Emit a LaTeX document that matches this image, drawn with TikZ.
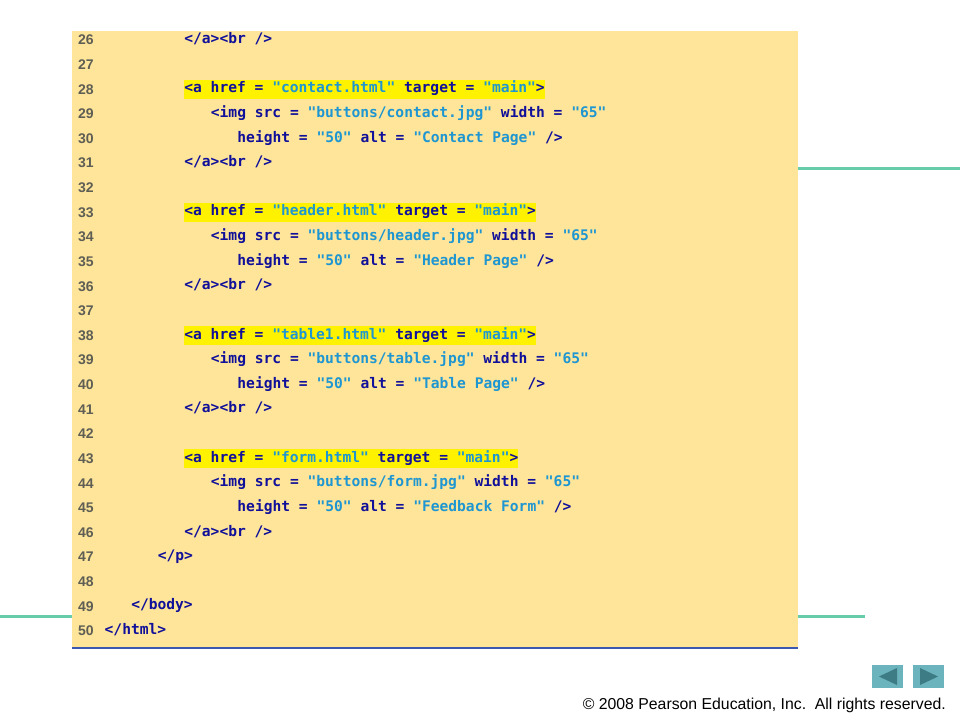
\documentclass[tikz,border=0pt]{standalone}
\usepackage{fontspec}
\setmainfont{Liberation Sans}
\setmonofont{DejaVu Sans Mono}
\newfontfamily\numfont{Liberation Sans}
\definecolor{boxbg}{HTML}{FFE599}
\definecolor{tagc}{HTML}{10109A}
\definecolor{strc}{HTML}{1E96D2}
\definecolor{numc}{HTML}{5E5E55}
\definecolor{teal}{HTML}{66CCAA}
\definecolor{edgeblue}{HTML}{3A58B0}
\definecolor{btn}{HTML}{6BB3BD}
\definecolor{btnarrow}{HTML}{3D7C84}
\newcommand\tg[1]{\textcolor{tagc}{#1}}
\newcommand\st[1]{\textcolor{strc}{#1}}
\tikzset{
  lnum/.style={anchor=west, inner sep=0pt, text=numc, font=\numfont\bfseries\fontsize{14}{14}\selectfont},
  code/.style={anchor=west, inner xsep=0pt, inner ysep=2pt, text height=11pt, text depth=4pt, text=tagc,
    font=\ttfamily\bfseries\fontsize{14.6}{14.6}\selectfont},
  hl/.style={code, fill=yellow},
  navbtn/.style={fill=btn, draw=none},
}
\newcommand\cl[4][]{%
  \pgfmathsetmacro\yy{40+(#2-26)*24.625}%
  \pgfmathsetmacro\xx{104.5+#3*8.85}%
  \node[lnum] (n#2) at (78,\yy) {#2};
  \node[code,#1] (c#2) at (\xx,\yy) {#4};}
\newcommand\nl[1]{%
  \pgfmathsetmacro\yy{40+(#1-26)*24.625}%
  \node[lnum] (n#1) at (78,\yy) {#1};}
\begin{document}
\begin{tikzpicture}[x=1pt,y=-1pt]
\useasboundingbox (0,0) rectangle (960,720);
\fill[white] (0,0) rectangle (960,720);
% decorative teal lines
\draw[teal, line width=3pt] (797,168) -- (960,168);
\draw[teal, line width=3pt] (0,616) -- (72,616);
\draw[teal, line width=3pt] (797,616) -- (865,616);
% code box
\fill[boxbg] (72,31) rectangle (798,648);
\draw[edgeblue, line width=1.3pt] (72,648) -- (798,648);
% lines
\cl{26}{9}{</a><br />}
\nl{27}
\cl[hl]{28}{9}{<a href = \st{"contact.html"} target = \st{"main"}>}
\cl{29}{12}{<img src = \st{"buttons/contact.jpg"} width = \st{"65"}}
\cl{30}{15}{height = \st{"50"} alt = \st{"Contact Page"} />}
\cl{31}{9}{</a><br />}
\nl{32}
\cl[hl]{33}{9}{<a href = \st{"header.html"} target = \st{"main"}>}
\cl{34}{12}{<img src = \st{"buttons/header.jpg"} width = \st{"65"}}
\cl{35}{15}{height = \st{"50"} alt = \st{"Header Page"} />}
\cl{36}{9}{</a><br />}
\nl{37}
\cl[hl]{38}{9}{<a href = \st{"table1.html"} target = \st{"main"}>}
\cl{39}{12}{<img src = \st{"buttons/table.jpg"} width = \st{"65"}}
\cl{40}{15}{height = \st{"50"} alt = \st{"Table Page"} />}
\cl{41}{9}{</a><br />}
\nl{42}
\cl[hl]{43}{9}{<a href = \st{"form.html"} target = \st{"main"}>}
\cl{44}{12}{<img src = \st{"buttons/form.jpg"} width = \st{"65"}}
\cl{45}{15}{height = \st{"50"} alt = \st{"Feedback Form"} />}
\cl{46}{9}{</a><br />}
\cl{47}{6}{</p>}
\nl{48}
\cl{49}{3}{</body>}
\cl{50}{0}{</html>}
% navigation buttons
\fill[navbtn] (872,665) rectangle (903,688);
\fill[btnarrow] (879,676.5) -- (897,668) -- (897,685) -- cycle;
\fill[navbtn] (913,665) rectangle (944,688);
\fill[btnarrow] (938,676.5) -- (920,668) -- (920,685) -- cycle;
% copyright
\node[anchor=east, inner sep=0pt, text=black, font=\fontsize{15.8}{15.8}\selectfont] (copy) at (946,705) {© 2008 Pearson Education, Inc.\ \ All rights reserved.};
\end{tikzpicture}
\end{document}
